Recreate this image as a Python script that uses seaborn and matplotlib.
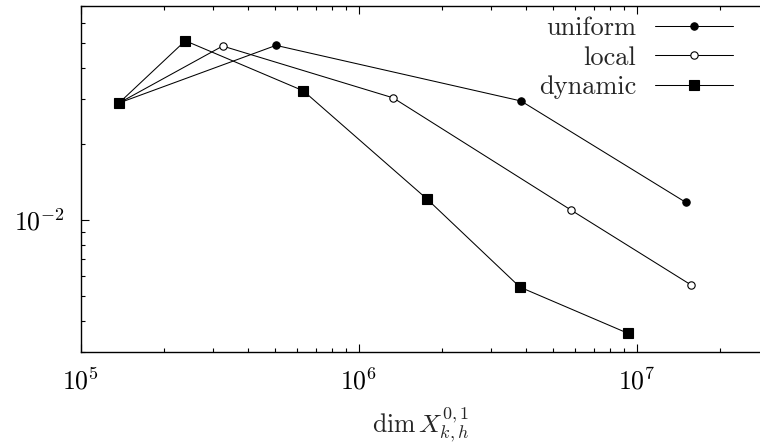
import matplotlib
matplotlib.use("Agg")
import matplotlib.pyplot as plt
import seaborn as sns
import pandas as pd
from matplotlib.ticker import LogLocator, NullFormatter

# Data
uniform_x = [1.373e5, 5.04e5, 3.835e6, 1.50e7]
uniform_y = [0.0290, 0.0490, 0.02954, 0.01175]
local_x = [1.373e5, 3.24e5, 1.329e6, 5.80e6, 1.563e7]
local_y = [0.0290, 0.0487, 0.0304, 0.01095, 0.00555]
dynamic_x = [1.373e5, 2.378e5, 6.32e5, 1.761e6, 3.80e6, 9.33e6]
dynamic_y = [0.0290, 0.0511, 0.0324, 0.0121, 0.00543, 0.00356]
series_names = ["uniform", "local", "dynamic"]

sns.set_style("ticks")
plt.rcParams["font.family"] = "serif"
plt.rcParams["font.serif"] = ["cmr10", "DejaVu Serif"]
plt.rcParams["mathtext.fontset"] = "cm"
plt.rcParams["axes.formatter.use_mathtext"] = True
plt.rcParams["axes.unicode_minus"] = True

fig = plt.figure(figsize=(7.6, 4.46), dpi=100)
ax = fig.add_axes([0.1062, 0.2101, 0.8938, 0.7771])

df = pd.concat([
    pd.DataFrame({"x": uniform_x, "y": uniform_y, "s": "uniform"}),
    pd.DataFrame({"x": local_x, "y": local_y, "s": "local"}),
    pd.DataFrame({"x": dynamic_x, "y": dynamic_y, "s": "dynamic"}),
])

styles = {
    "uniform": dict(marker="o", markersize=5.3, markerfacecolor="black"),
    "local": dict(marker="o", markersize=5.3, markerfacecolor="white"),
    "dynamic": dict(marker="s", markersize=6.6, markerfacecolor="black"),
}
for name in series_names:
    sub = df[df["s"] == name]
    sns.lineplot(data=sub, x="x", y="y", ax=ax, sort=False, color="black",
                 linewidth=0.75, markeredgecolor="black", markeredgewidth=0.8,
                 label=name, **styles[name])

ax.set_xscale("log")
ax.set_yscale("log")
ax.set_xlim(1e5, 2.776e7)
ax.set_ylim(3.0e-3, 7.03e-2)

ax.xaxis.set_major_locator(LogLocator(base=10))
ax.xaxis.set_minor_locator(LogLocator(base=10, subs=range(2, 10)))
ax.yaxis.set_major_locator(LogLocator(base=10))
ax.yaxis.set_minor_locator(LogLocator(base=10, subs=range(2, 10)))
ax.xaxis.set_minor_formatter(NullFormatter())
ax.yaxis.set_minor_formatter(NullFormatter())

for s in ["left", "bottom", "top"]:
    ax.spines[s].set_visible(True)
    ax.spines[s].set_color("black")
    ax.spines[s].set_linewidth(1.0)
ax.spines["right"].set_visible(False)

ax.tick_params(which="both", direction="in", top=True, right=False,
               colors="black", width=0.8, labelsize=18.5)
ax.tick_params(which="major", length=5.5, pad=11)
ax.tick_params(which="minor", length=3)

ax.set_xlabel(r"$\dim X^{0,1}_{k,h}$", fontsize=18.5, labelpad=8)
ax.set_ylabel("")

ax.legend(loc="upper right", bbox_to_anchor=(0.9757, 1.0), frameon=False,
          markerfirst=False, fontsize=19, handlelength=2.95,
          handletextpad=0.72, labelspacing=0.22,
          borderaxespad=0.2, borderpad=0.2)

fig.savefig("out.png", dpi=100)
